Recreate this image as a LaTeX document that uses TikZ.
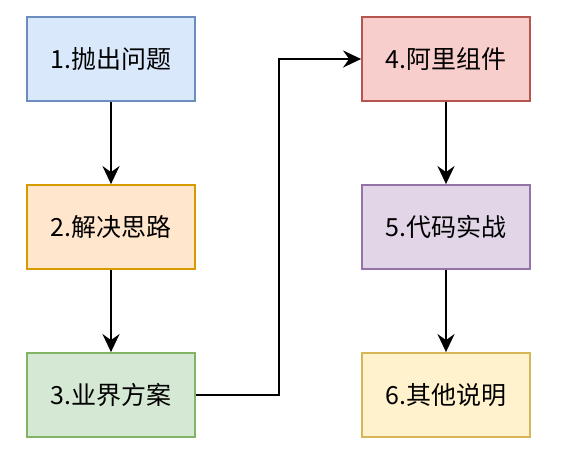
\documentclass[tikz,border=0pt]{standalone}
\usepackage{fontspec}
\setmainfont{Noto Sans CJK SC}
\usetikzlibrary{arrows.meta}

\definecolor{bluefill}{HTML}{DAE8FC}\definecolor{bluedraw}{HTML}{6C8EBF}
\definecolor{orangefill}{HTML}{FFE6CC}\definecolor{orangedraw}{HTML}{D79B00}
\definecolor{greenfill}{HTML}{D5E8D4}\definecolor{greendraw}{HTML}{82B366}
\definecolor{redfill}{HTML}{F8CECC}\definecolor{reddraw}{HTML}{B85450}
\definecolor{purplefill}{HTML}{E1D5E7}\definecolor{purpledraw}{HTML}{9673A6}
\definecolor{yellowfill}{HTML}{FFF2CC}\definecolor{yellowdraw}{HTML}{D6B656}

\begin{document}
\begin{tikzpicture}[x=1pt,y=-1pt,
    box/.style={rectangle, draw, line width=1.8pt, minimum width=168pt, minimum height=84pt,
                inner sep=0pt, font=\fontsize{25}{29}\selectfont},
    flow/.style={-{Stealth[length=18pt,width=17pt,inset=6pt]}, line width=2.4pt}]
                        \useasboundingbox (0,0) rectangle (586,469);
                        % Nodes
                        \node[box, fill=bluefill, draw=bluedraw] (q1) at (111,59) {1.抛出问题};
                        \node[box, fill=orangefill, draw=orangedraw] (q2) at (111,227) {2.解决思路};
                        \node[box, fill=greenfill, draw=greendraw] (q3) at (111,395) {3.业界方案};
                        \node[box, fill=redfill, draw=reddraw] (q4) at (446,59) {4.阿里组件};
                        \node[box, fill=purplefill, draw=purpledraw] (q5) at (446,227) {5.代码实战};
                        \node[box, fill=yellowfill, draw=yellowdraw] (q6) at (446,395) {6.其他说明};
                        \coordinate (turn) at (279,227);

                        % Edges
                        \draw[flow] (q1) -- (q2);
                        \draw[flow] (q2) -- (q3);
                        \draw[flow] (q3.east) -| (turn) |- (q4.west);
                        \draw[flow] (q4) -- (q5);
                        \draw[flow] (q5) -- (q6);
                    \end{tikzpicture}
\end{document}
